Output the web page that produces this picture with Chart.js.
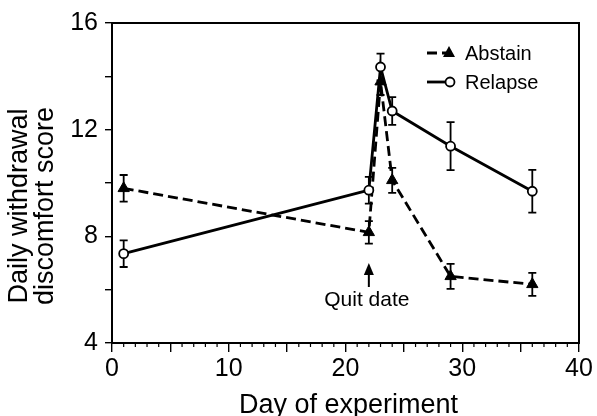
<!DOCTYPE html>
<html>
<head>
<meta charset="utf-8">
<style>
  html, body { margin: 0; padding: 0; background: #fff; }
  #wrap { width: 597px; height: 416px; }
</style>
</head>
<body>
<div id="wrap"><canvas id="chartWithdrawal" width="597" height="416"></canvas></div>
<script src="https://cdn.jsdelivr.net/npm/chart.js@4.4.1/dist/chart.umd.min.js"></script>
<script>
   // Values
   const days = [1, 22, 23, 24, 29, 36];
   const abstainMean = [9.8, 8.15, 13.8, 10.1, 6.5, 6.2];
   const abstainErr = [0.5, 0.42, 0.5, 0.47, 0.47, 0.43];
   const relapseMean = [7.35, 9.73, 14.35, 12.7, 11.38, 9.69];
   const relapseErr = [0.5, 0.5, 0.5, 0.52, 0.9, 0.8];
   const xTickLabels = [0, 10, 20, 30, 40];
   const yTickLabels = [4, 8, 12, 16];
   const quitDay = 22;

   const FONT = '"Liberation Sans", Arial, Helvetica, sans-serif';

   function toPoints(xs, ys) {
       return xs.map((x, i) => ({ x: x, y: ys[i] }));
   }

   // error bars, frame, minor ticks, legend, titles and the quit-date arrow
   const extras = {
       id: 'extras',
       beforeDatasetsDraw(chart) {
           const ctx = chart.ctx;
           const xs = chart.scales.x, ys = chart.scales.y;
           ctx.save();
           ctx.strokeStyle = '#000';
           ctx.lineWidth = 1.8;
           [[abstainMean, abstainErr], [relapseMean, relapseErr]].forEach(([m, e]) => {
               days.forEach((d, i) => {
                   const px = xs.getPixelForValue(d);
                   const top = ys.getPixelForValue(m[i] + e[i]);
                   const bot = ys.getPixelForValue(m[i] - e[i]);
                   ctx.beginPath();
                   ctx.moveTo(px, top); ctx.lineTo(px, bot);
                   ctx.moveTo(px - 4, top); ctx.lineTo(px + 4, top);
                   ctx.moveTo(px - 4, bot); ctx.lineTo(px + 4, bot);
                   ctx.stroke();
               });
           });
           ctx.restore();
       },
       afterDraw(chart) {
           const ctx = chart.ctx;
           const a = chart.chartArea;
           const xs = chart.scales.x, ys = chart.scales.y;
           ctx.save();
           ctx.strokeStyle = '#000';
           ctx.fillStyle = '#000';

           // full frame
           ctx.lineWidth = 2;
           ctx.strokeRect(a.left, a.top, a.right - a.left, a.bottom - a.top);

           // minor day ticks
           ctx.lineWidth = 1.2;
           for (let d = 1; d < 40; d++) {
               if (d % 5 === 0) continue;
               const px = xs.getPixelForValue(d);
               ctx.beginPath();
               ctx.moveTo(px, a.bottom); ctx.lineTo(px, a.bottom + 4);
               ctx.stroke();
           }

           // quit date arrow
           const qx = xs.getPixelForValue(quitDay);
           const tipY = ys.getPixelForValue(7.0);
           const baseY = ys.getPixelForValue(6.1);
           ctx.lineWidth = 2;
           ctx.beginPath();
           ctx.moveTo(qx, tipY + 6); ctx.lineTo(qx, baseY);
           ctx.stroke();
           ctx.beginPath();
           ctx.moveTo(qx, tipY);
           ctx.lineTo(qx - 5, tipY + 12);
           ctx.lineTo(qx + 5, tipY + 12);
           ctx.closePath();
           ctx.fill();
           ctx.font = '21px ' + FONT;
           ctx.textAlign = 'center';
           ctx.textBaseline = 'middle';
           ctx.fillText('Quit date', qx - 2, ys.getPixelForValue(5.6));

           // legend
           const ds = chart.data.datasets;
           const rows = [{ y: 53, d: ds[0] }, { y: 82, d: ds[1] }];
           ctx.font = '20px ' + FONT;
           ctx.textAlign = 'left';
           rows.forEach(r => {
               ctx.lineWidth = 2.8;
               ctx.setLineDash(r.d.borderDash || []);
               ctx.beginPath();
               ctx.moveTo(427, r.y); ctx.lineTo(446, r.y);
               ctx.stroke();
               ctx.setLineDash([]);
               if (r.d.pointStyle === 'triangle') {
                   ctx.beginPath();
                   ctx.moveTo(449, r.y - 7);
                   ctx.lineTo(455, r.y + 4);
                   ctx.lineTo(443, r.y + 4);
                   ctx.closePath();
                   ctx.fill();
               } else {
                   ctx.lineWidth = 1.8;
                   ctx.beginPath();
                   ctx.arc(450, r.y, 4.5, 0, Math.PI * 2);
                   ctx.fillStyle = '#fff';
                   ctx.fill();
                   ctx.stroke();
                   ctx.fillStyle = '#000';
               }
               ctx.fillText(r.d.label, 465, r.y + 1);
           });

           // axis titles
           ctx.font = '27px ' + FONT;
           ctx.textAlign = 'center';
           ctx.textBaseline = 'alphabetic';
           ctx.fillText('Day of experiment', (a.left + a.right) / 2 + 3, 413);
           ctx.translate(0, 206);
           ctx.rotate(-Math.PI / 2);
           ctx.fillText('Daily withdrawal', 0, 27);
           ctx.fillText('discomfort score', 0, 53);
           ctx.restore();
       }
   };

   const chartWithdrawal = new Chart(document.getElementById('chartWithdrawal'), {
       type: 'line',
       data: {
           datasets: [{
               label: 'Abstain',
               data: toPoints(days, abstainMean),
               borderColor: '#000',
               backgroundColor: '#000',
               borderWidth: 2.8,
               borderDash: [10, 5],
               pointStyle: 'triangle',
               pointRadius: 6.5,
               pointBorderWidth: 1,
               order: 2
           }, {
               label: 'Relapse',
               data: toPoints(days, relapseMean),
               borderColor: '#000',
               backgroundColor: '#fff',
               borderWidth: 2.8,
               pointStyle: 'circle',
               pointRadius: 4.5,
               pointBorderWidth: 1.8,
               order: 1
           }]
       },
       options: {
           responsive: false,
           animation: false,
           events: [],
           layout: { padding: { top: 23, right: 18, left: 0, bottom: 0 } },
           plugins: {
               legend: { display: false },
               tooltip: { enabled: false }
           },
           scales: {
               x: {
                   type: 'linear',
                   min: 0, max: 40,
                   afterFit: s => { s.height = 73; },
                   border: { display: false },
                   grid: { drawOnChartArea: false, drawTicks: true, tickLength: 9, color: '#000', lineWidth: 1.4 },
                   ticks: {
                       stepSize: 5,
                       padding: 2,
                       color: '#000',
                       font: { family: FONT, size: 25 },
                       maxRotation: 0,
                       autoSkip: false,
                       callback: v => xTickLabels.includes(v) ? String(v) : ''
                   }
               },
               y: {
                   min: 4, max: 16,
                   afterFit: s => { s.width = 112; },
                   border: { display: false },
                   grid: { drawOnChartArea: false, drawTicks: true, tickLength: 7, color: '#000', lineWidth: 1.4 },
                   ticks: {
                       stepSize: 2,
                       padding: 7,
                       color: '#000',
                       font: { family: FONT, size: 25 },
                       autoSkip: false,
                       callback: v => yTickLabels.includes(v) ? String(v) : ''
                   }
               }
           }
       },
       plugins: [extras]
   });
</script>
</body>
</html>
